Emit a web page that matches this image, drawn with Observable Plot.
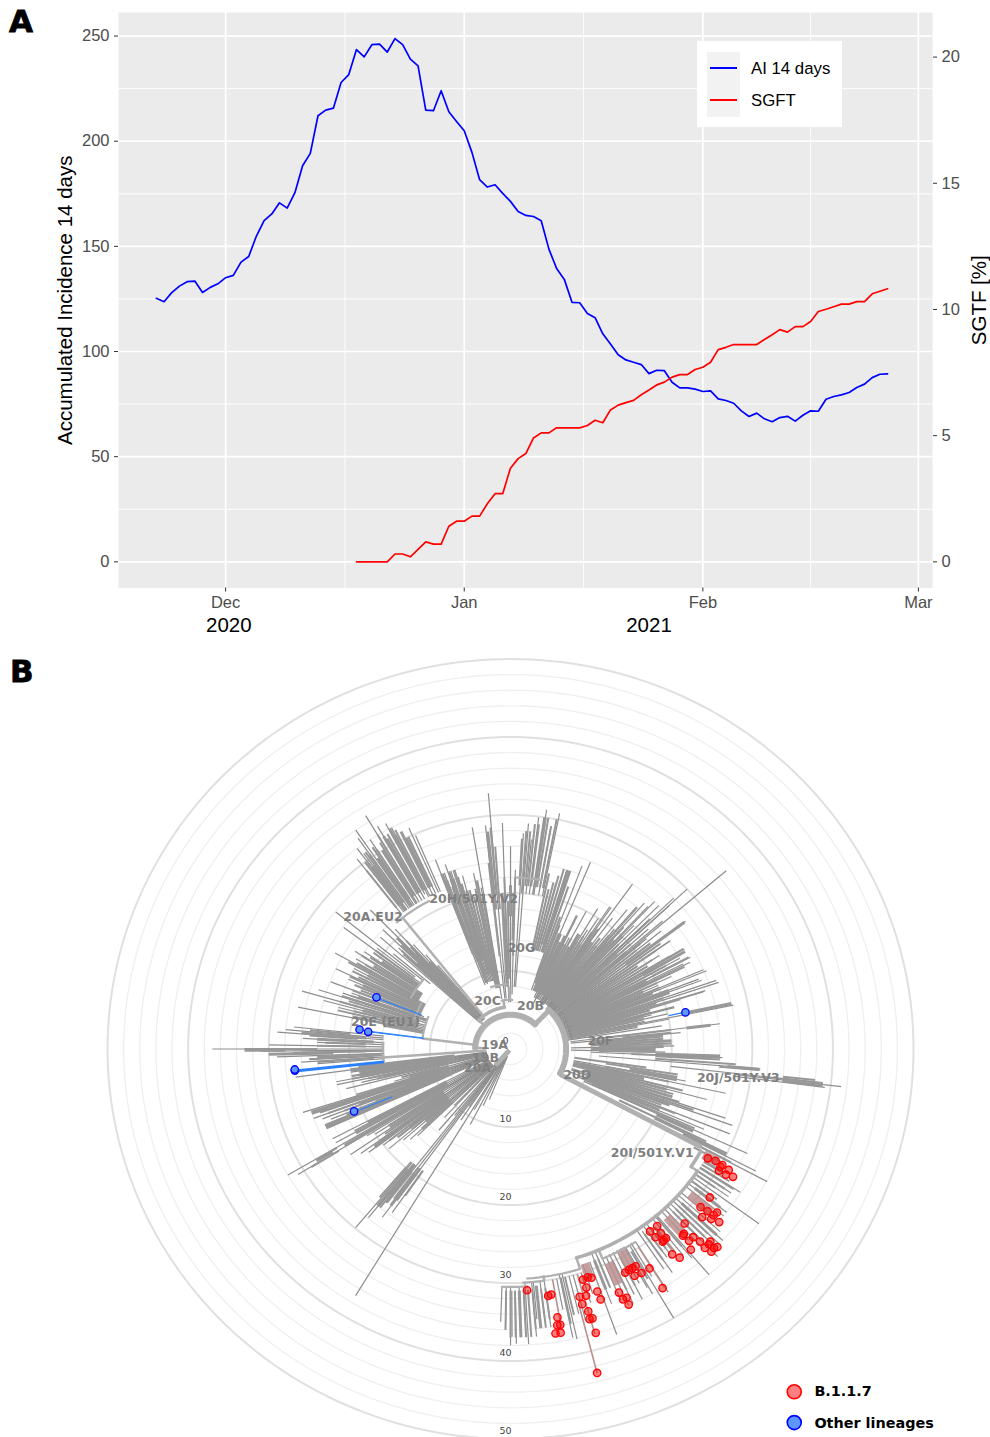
<!DOCTYPE html>
<html>
<head>
<meta charset="utf-8">
<script src="https://cdn.jsdelivr.net/npm/d3@7"></script>
<script src="https://cdn.jsdelivr.net/npm/@observablehq/plot@0.6"></script>
<style>
html,body{margin:0;padding:0;background:#fff}
#page{position:relative;width:990px;height:1437px;overflow:hidden}
#page svg{display:block}
.tag{position:absolute;font:700 31px "DejaVu Sans";color:#000;line-height:30px;-webkit-text-stroke:0.8px #000}
#lg{position:absolute;left:697px;top:41px;width:145px;height:86px;background:#fff;font:16.8px "Liberation Sans";color:#000}
#lg .key{position:absolute;left:10px;top:11px;width:33px;height:65px;background:#F2F2F2}
#lg .ln{position:absolute;left:13px;width:27px;height:2px}
#lg .t{position:absolute;left:54px;line-height:18px}
</style>
</head>
<body>
<div id="page">
  <div id="a"></div>
  <div id="b"></div>
  <div class="tag" style="left:9px;top:6px">A</div>
  <div class="tag" style="left:10px;top:656px">B</div>
  <div id="lg">
    <div class="key"></div>
    <div class="ln" style="top:26px;background:#00f"></div>
    <div class="ln" style="top:58px;background:#f00"></div>
    <div class="t" style="top:19px">AI 14 days</div>
    <div class="t" style="top:51px">SGFT</div>
  </div>
</div>
<script>
// ---------- Panel A data ----------
const aiStart = "2020-11-22";
const ai14days = [125.3,123.7,128,131.1,133.2,133.5,128.1,130.5,132.2,135.1,136.2,142.5,145.2,154.9,162.2,165.4,170.7,168.2,175.5,188.3,194.2,212.1,214.8,215.7,227.9,231.7,243.6,240.1,245.9,246.2,242.4,248.8,245.9,239,235.8,214.8,214.5,224,214,209.4,205,194.7,181.7,178.2,179.3,175.2,171.4,166.6,164.7,164.2,162.2,148.7,139.5,134.3,123.4,123.2,118.1,116.1,108.4,103.6,98.5,96,94.9,93.8,89.5,91.1,90.9,85.4,82.7,82.7,82.1,81,81.3,77.5,76.7,75.4,71.8,69.1,70.7,68,66.6,68.6,69.2,66.9,69.7,71.8,71.6,77.3,78.6,79.4,80.5,82.9,84.5,87.6,89.2,89.4];
const sgftStart = "2020-12-18";
const sgft = [0,0,0,0,0,0.31,0.31,0.2,0.49,0.79,0.7,0.7,1.41,1.61,1.61,1.81,1.81,2.3,2.7,2.7,3.71,4.09,4.29,4.91,5.11,5.11,5.31,5.31,5.31,5.31,5.4,5.61,5.51,6.02,6.21,6.31,6.4,6.62,6.81,7.01,7.12,7.32,7.42,7.42,7.62,7.71,7.91,8.41,8.5,8.61,8.61,8.61,8.61,8.81,9,9.2,9.1,9.32,9.32,9.52,9.92,10.01,10.11,10.21,10.21,10.31,10.31,10.62,10.72,10.82];
const monthTicks = ["2020-12-01","2021-01-01","2021-02-01","2021-03-01"];
const monthMinor = ["2020-12-16T12:00Z","2021-01-16T12:00Z","2021-02-15T00:00Z"];
const leftTicks = [0,50,100,150,200,250];
const leftMinor = [25,75,125,175,225];
const rightTicks = [0,5,10,15,20];
const sgftPerAi = 12;
const years = [["2020-12-01T10:00Z","2020"],["2021-01-25T00:00Z","2021"]];

// ---------- Panel B data: [angle clockwise from top (deg), depth from, depth to] ----------
const ringsMinor = [2,4,6,8,12,14,16,18,22,24,26,28,32,34,36,38,42,44,46,48];
const ringsMajor = [10,20,30,40,50];
const ringLabels = [0,10,20,30,40,50];
const trunkHeavy = [[44,4.4,6.9],[118,7,26.8],[-138,0.2,2.8]];
const arcsHeavy = [[4.4,-88,44],[6.9,43,117]];
const arcsMid = [[5.4,-47,-8],[28,124,163],[27,119,124]];
const arcsLight = [[6.3,-10,2],[29.5,163,176],[21.5,-41,-28],[29.2,148,157],[11,-83,-68],[15.8,-96,-87],[22,2,10],[30,172,177],[12.5,-72,-62],[14,-62,-50],[8.3,-17,-3],[30.5,176,182]];
const trunkLight = [[-47,4.4,5.4],[-8,5.4,6.3],[124,27,28],[163,28,29.5],[172,29.3,30],[-38.5,5.4,21.5],[-83,4.2,11],[-88,3,4.4],[-94,3,15.8],[157,28,29.2],[-1,6.3,8]];
const raysThin = [
 [49.5,7,35.2],[46.9,7,30],[53,7.5,27.2],[46.3,7.2,28],[43.4,7,26],[41.6,7,25],[35.6,7,26],[40.6,7,24],[34,6.8,22],[25.9,6.5,19],[35,7,18.8],[32.1,7,17.1],[55,7.5,24.2],[59.3,7.5,25.1],[62.2,7.5,25.2],[63.5,7.5,24.9],[67.6,7.5,26.3],[69.6,7.5,25.3],[71.7,7.5,27.2],[72.8,7.5,25.3],[78.5,7.5,28.2],[82.9,7.5,26.2],[75.4,7.5,21],[84.3,7.5,21.2],[88.9,7.5,20.3],[91.2,7.5,19.2],[92.4,10,26.3],[94.7,11,31.1],[96.7,28,41.3],[97.2,28,39.3],[96.4,20,34.1],[102,8,27.3],[104.9,8,25.2],[100.7,8,22.1],[108.4,8,28.1],[109.6,8,29.2],[111.8,8,29.3],[114.5,10,32.3],[113.2,9,26.1],[118.6,8,16],
 [24,7.2,15],[25.5,7.2,19],[27,7.2,16],[28,7.2,20],[29.5,7.2,17],[31,7.2,21],[32,7.2,18],[33,7.2,20],[34.5,7.2,22],[35.5,7.2,19],[37,7.2,21],[38,7.2,18],[39,7.2,23],[40,7.2,20],[41,7.2,24],[42,7.2,21],[43,7.2,25],[44,7.2,22],[45,7.2,26],[46,7.2,24],[47,7.2,27],[48,7.2,23],[49,7.2,25],[50,7.2,22],[51,7.2,24],[52,7.2,21],[53,7.2,26],[54,7.2,22],[55,7.2,24],[56,7.2,19],[57,7.2,22],[58,7.2,20],[59,7.2,25],[60,7.2,21],[61,7.2,24],[62,7.2,20],[63,7.2,24],[64,7.2,19],[65,7.2,22],[66,7.2,20],[67,7.2,26],[68,7.2,19],[69,7.2,25],[70,7.2,20],[71,7.2,27],[72,7.2,19],[73,7.2,25],[74,7.2,18],[75,7.2,21],[76,7.2,18],[77,7.2,20],[78,7.2,17],[79,7.2,20],[80,7.2,16],[81,7.2,19],
 [22.5,8,25.9],[20.7,8,25.1],[19,8,22],[17,13,24],[14.8,13,21.9],[16,13,23],[13,13,21],[11.4,20,30.8],[10,20,29],[8.3,20,31],[6.7,20,29.9],[4.4,8,29],[3.3,8,27.7],[5.5,20,27],[0,6,26],[-2,6,29],[-4.8,6.5,32.9],[-6.2,6.5,28.8],[-9.5,6.5,28.8],[1.5,7,23],
 [-31,22,34.9],[-34.4,22,34],[-36.5,22,32],[-38,22,30.9],[-28.2,22.5,32.8],[-24,22,31],[-23.3,22,29.8],[-37,22,30],[-36,22,31],[-35,22,33],[-33.5,22,31],[-33,22,32],[-32,22,30],[-30,22,33],[-29,22,31],[-27.5,22,32],[-27,22,30],[-26,22,31],[-25,22,30],
 [-44.3,5,24.9],[-47,5,19],[-48.4,5,21.6],[-46,5,22],[-45,5,20],[-43,5,21],[-42,5,18],[-41,5,16],[-40,5,14],
 [-21,8.8,26],[-18.9,8.8,25],[-20,9,24],[-19,9,23],[-18,9,24],[-17,9,23],[-16,9,22],[-15,9,23],[-14,9,21],[-13,8,19],[-11.5,8,23],[-10,8,21],
 [-78.5,11,26.9],[-74,11,26.9],[-72.3,11,25],[-68.9,11.5,23.9],[-64.6,12,24],[-60.5,13,25],[-53,14,25.9],[-51,14,27.9],[-58.9,13,22.4],[-76,11,22],[-77,11,20],[-75,11,24],[-71,11,22],[-70,11,21],[-67,12,21],[-66,12,22],[-63,12,21],[-62,12,22],[-59,13,20],[-57,13,23],[-55.5,14,22],[-54,14,21],[-52,15,21],[-50,13,19],
 [-90,15.8,37],[-90.5,15.8,31],[-92,15.8,29],[-93.7,15.8,26],[-85.7,15.8,29],[-84.9,15.8,28],[-84,15.8,27],[-87,15.8,25.8],[-88,15.8,24],[-89,15.8,30],[-91,15.8,27],[-93,15.8,25],[-94.5,15.8,24],
 [-97.7,3,26.9],[-98.5,3,20],[-99,3,19],[-100,3,20],[-101,3,22],[-102,3,22],[-103,3,19],[-104,3,21],
 [-107.5,3,27],[-110,3,26],[-114,3,24.9],[-106,3,15],[-108,3,24],[-109,3,25],[-111,3,25],[-112,3,24],[-113,3,25],
 [-117.5,3,24.9],[-119,3,24.8],[-120.3,3,32],[-121.4,3,30.9],[-124.3,3,24],[-125.8,3,22.9],[-127,3,22],[-130.3,3,19.8],[-131.3,3,17.7],[-123,3,20],[-122,3,21],[-128,3,20],[-129,3,18],[-126,3,19],[-132,3,14],[-133,3,17],[-134,3,16],
 [-139.5,2,13.7],[-137,2,12],[-136,2,10],[-141,2,11],[-148.7,1,37],[-152.7,1.5,10.9],[-150,1.5,9],[-155,1,8],[-158,1,7],[-146,1.5,11],[-145,1.5,9],[-142,1.5,19],[-143,1.5,19],[-144,1.5,20],
 [-140,19,29.9],[-140.8,19,27.9],[-143.6,19,26.8],[-145.3,19,22.9],[-145,19,25.6],[-142,19,25],[-141,19,26],[-139.5,19,22],[-143,19,23],[-144,19,22],
 [117.2,25,34.2],[118.1,26,36.1],[122.8,28,33.9],[126,28,38.1],[139.6,28,38],[149.6,29.2,40],[160.2,29,38.9],[147.9,29.2,36.8],[150.7,29.2,36],[145,28.5,35],[167.5,29.5,38.1],[168.2,29.5,37.8],[176.6,30,37.9],[178.9,31,37.8],[179.7,31,36.9],[174.6,30,34.8],
 [124,28,33],[125,28,33],[127,28,32],[128,28,34],[129,28,34],[131,28,33],[132,28,35],[133,28,36],[134,28,36],[135,28,36],[136,28,37],[137,28,35],[138,28,33],[140,28,35],[141,28,34],[143,28,33],[144,28,33],[146,28,34],[149,29,34],[151,29,35],[152,29,34],[153,29,36],[154,29,35],[155,29,36],[156,29,36],[157,29,35],[158,28,33],[159,28,35],[162,29,33],[163,30,34],[165,30,36],[166,30,35],[169,30,34],[172,30,36],[173,30,35],[175,30,37],[177,30.5,36],[178,30.5,35],[180,30.5,38],[181,30.5,36],[182,30.5,35]
];
const raysDense = [
 [25,8,16],[17.5,13,24],[8.3,21,30],[53,18,27],[60,19,25],[69,9,21],[73,8,22],[78,22,28],[83,22,25],[92,18,26],[94.8,27,31],[96.5,34,39],[100,15,21],[107,10,21],[113,10,20],[115,20,25],[117,24,30],[30,8,17],[36,8,17],[42,8,19],[47,8,18],[63,8,19],[66,9,18],[76,8,17],[79,8,16],
 [85,10,19],[87,10,20],[89,11,19],[91,11,18],[103,8,17],[105,8,20],[110,10,21],
 [-36,22,29],[-34,22,29.5],[-32,22,30],[-30,23,31.5],[-28,23,32],[-26,23,31],
 [-46,6,16],[-44,6,17],[-42.5,6,15],
 [-19,10,22],[-17,12,24],[-15,10,21],[-11,8,22],[-5.8,18,28],[-3,8,20],[0,17,21],
 [-70.5,11,20],[-66,12,20],[-62,12,20],[-58,13,20],[-55,14,19.5],[-75,12,19],[-79,11,16],
 [-85.5,18,26],[-87,17,24],[-92.5,16,24],[-91.3,22,30],[-90.3,28,33],
 [-97,7,19],[-99,7,18],[-100.5,7,19],[-102.5,7,16],
 [-108.5,8,26],[-110.5,8,20],[-113.5,8,25],[-112,8,18],[-106,8,13],
 [-118,9,20],[-120.8,25.7,28],[-121,9,24],[-124,10,18],[-126.5,10,21],[-128.5,10,16],[-131,10,14],[-133,10,15],
 [-142,20,25],[-143.5,20,25],[-141,19,24],
 [121,28,31],[128,29,33],[133,29,35],[142,29,33],[159,29,33],[174,30.5,36],[178,31,37]
];
const raysFill = [
 [-38,23,29],[-37,23,30],[-36.5,23,30],[-35.5,23,31],[-35,23,30.5],[-33.5,23,31],[-33,23,30.5],[-31.5,23,31],[-31,23,32],[-29.5,23,31],[-29,23,31.5],[-27.5,23,31],[-27,23,31.5],[-25.5,23,30],[-25,23,30],
 [-47.5,6,18],[-47,6,18.5],[-45.5,6,19],[-45,6,18],[-44.5,6,20],[-43.5,6,18],[-43,6,19],[-41.5,6,15],[-41,6,14],
 [-21,13,24],[-20,12,23],[-20.5,14,24],[-18,10,23],[-18.5,12,24],[-16,10,22],[-16.5,12,23],[-14,10,21],[-13,9,20],[-12,8,21],[-10,8,20],[-6.5,12,24],[-5,20,28.5],[-6,22,27],[-4.2,18,26],[-2,9,22],[-1,9,19],[1,14,20],[1.5,12,22],
 [3,21,27],[4,20,28],[5,21,28],[6,21,29],[7,21,29],[8,20,30],[9,21,30],[10,21,29],[11,21,30],
 [12,13,23],[13,13,21],[14,13,22],[15,13,23],[16,14,24],[17,14,24],[18,13,24],[19,10,22],[20,9,18],[21,8,17],[22,8,16],[23,8,16],[24,8,15],[26,8,15],[27,8,15],[28,8,16],
 [29,8,15],[31,8,16],[32,8,17],[33,8,16],[34,8,18],[35,8,16],[37,8,17],[38,8,18],[39,8,17],[40,8,19],[41,8,18],[43,8,19],[44,8,20],[45,8,19],[46,8,18],[48,8,20],[49,8,19],[50,8,21],[51,8,20],[52,8,22],[54,8,23],[55,8,22],[56,8,19],[57,8,21],[58,8,20],[59,8,23],[60,8,21],[61,8,22],[62,8,19],[64,8,19],[65,8,20],[67,8,20],[68,8,19],[70,8,21],[71,8,20],[72,8,19],[74,8,18],[75,8,18],[77,8,17],[62,20,25],[64,19,24],
 [83,10,20],[84,14,20],[86,10,19],[88,11,20],[90,10,18],[92.5,15,26],[93,18,26],[94,18,28],[95,26,31],[96,34,38],[97,34,39],[98,8,17],[99,12,21],[101,12,21],[102,9,20],[104,9,22],[106,10,21],[108,10,22],[109,10,24],[111,10,20],[112,10,22],[114,11,25],[116,15,27],[116.5,20,30],[118,24,31],[119,26,30],
 [-78,11,20],[-77,12,22],[-76,12,20],[-74,12,22],[-73,12,21],[-72,12,22],[-71,12,21],[-69,12,21],[-68,12,20],[-67,12,21],[-65,12,22],[-64,12,21],[-63,12,22],[-61,13,23],[-60,13,22],[-59,13,21],[-57,14,22],[-56,14,21],[-54,14,21],[-53,15,21],
 [-84.5,20,25],[-86,19,25],[-88,18,23],[-89,18,24],[-90,24,33],[-91,18,26],[-93,17,25],[-94,17,24],
 [-97.5,8,20],[-98,8,20],[-98.5,8,19],[-99.5,8,19],[-100,8,20],[-101,8,20],[-102,8,18],[-103,8,17],[-105,9,14],[-107,9,20],[-108,9,26],[-109,9,25],[-110,9,24],[-111,9,22],[-112.5,9,22],[-113,9,25],[-114,9,25],[-118.5,9,22],[-119.5,9,22],[-120.5,9,19],[-123,10,18],[-125,10,19],[-126,10,20],[-127,10,21],[-128,10,19],[-129,10,18],[-130,10,16],
 [-139.5,20,25],[-140.5,20,26],[-141.5,19,26],[-143,19,24],[-144,19,24],[-120.5,25,28],[-121.5,25,29],
 [122,28,32],[123,28,33],[124,28,32],[125,28,31],[127,28,32],[133,29,34],[134,29,34],[135,29,34],[136,29,34],[140,28,33],[143,29,32],[144,29,32],[145,29,33],[150,30,34],[153,30,34],[155,30,34],[158,29,33],[167,30,35],[168,30,36],[172,31,35],[173,31,36],[175,31,36],[176,31,37],[177,31,37],[179,31,37],[180,31,37],[181,31,36]
];
const brownWide = [[130,29,32.5],[138,29,32],[119.5,27.5,29.5],[161.5,29,31],[152,29,32],[156,30,33]];
const brownNarrow = [[165.5,34,42.9],[142,30,33],[148,30,36],[164,30,38],[170,30,36]];
const blueThin = [[-68.5,11.8,17.9],[-82.6,10.9,18.9],[-82.9,10.9,17.8],[-112.6,15.9,21],[77.7,20.1,22.2]];
const blueThick = [[-96,15.8,26.9]];
const blueDots = [[-68.3,17.9],[-82.4,18.9],[-82.9,17.8],[-95.9,26.9],[-95.6,26.9],[-112.4,21],[77.8,22.2]];
const redDots = [[119.8,28.2],[119.4,29.2],[119.5,30.2],[119.8,31.2],[121.1,30.2],[121.1,31.2],[120.7,32.1],[120.1,30.1],[127.6,31.2],[130.7,31.1],[130.4,32.1],[129.3,33.1],[130.2,33],[132.2,32.1],[131.2,33.1],[130.6,34.1],[136,31.1],[141.3,29.1],[143.5,29.1],[141.7,30.1],[143.3,30.1],[141.5,31],[142.2,31],[142.6,31.1],[137.8,32],[138.2,32.1],[136.8,33.1],[138,33.1],[136.4,34.1],[134.9,35],[135.5,35.1],[134.7,36.1],[135.3,35.9],[136.6,35.1],[136.2,36],[139,34.1],[142.7,33.1],[141.9,34],[148.5,33],[150.9,31.9],[151.7,31.9],[152.6,31.9],[153.6,32],[150.5,33],[152.1,32.9],[148.4,36],[156.7,34],[155.7,35],[156.5,35],[155.9,35.9],[161.1,31],[161.9,30.8],[163.1,30.9],[162.9,32],[163.5,33],[164.9,32.9],[160.9,32.9],[160.8,34],[164.8,33.9],[164,35],[164.2,36],[163.6,36],[163.8,37.9],[165.5,42.9],[176.2,31],[171.6,32],[170.9,31.9],[170.4,34.9],[170.7,35.9],[170.1,35.9],[171.3,36.9],[170.3,36.9]];
const cladeLabels = [["19A",-77.3,2.04],["19B",-109.5,3.3],["20A",-120.3,4.75],["20B",24,6.1],["20C",-24.7,6.8],["20D",111.7,8.9],["20E (EU1)",-77.3,15.9],["20F",84.9,11.2],["20G",6,13],["20H/501Y.V2",-13.4,19.8],["20I/501Y.V1",127.3,22.1],["20J/501Y.V3",97.4,28.5],["20A.EU2",-45.3,24]];
const legendItems = ["B.1.1.7","Other lineages"];

// ---------- Panel A ----------
const day = 86400000;
const seq = (start, vals) => vals.map((v, i) => ({date: new Date(+new Date(start + "T00:00Z") + i * day), v}));
const aiRows = seq(aiStart, ai14days);
const sgftRows = seq(sgftStart, sgft).map(d => ({date: d.date, v: d.v * sgftPerAi}));
const toDate = s => new Date(s.length === 10 ? s + "T00:00Z" : s);
const sans = "Liberation Sans";
const A = Plot.plot({
  width: 990, height: 645, marginLeft: 118, marginRight: 58, marginTop: 12, marginBottom: 57.5,
  style: {background: "transparent", fontFamily: sans},
  x: {type: "utc", domain: [new Date("2020-11-17T02:00Z"), new Date("2021-03-02T20:00Z")]},
  y: {domain: [-12.44, 261.2]},
  marks: [
    Plot.frame({fill: "#EBEBEB", stroke: null}),
    Plot.ruleY(leftMinor, {stroke: "#fff", strokeWidth: 0.9}),
    Plot.ruleX(monthMinor.map(toDate), {stroke: "#fff", strokeWidth: 0.9}),
    Plot.ruleY(leftTicks, {stroke: "#fff", strokeWidth: 1.7}),
    Plot.ruleX(monthTicks.map(toDate), {stroke: "#fff", strokeWidth: 1.7}),
    Plot.line(aiRows, {x: "date", y: "v", stroke: "#0000FF", strokeWidth: 1.7}),
    Plot.line(sgftRows, {x: "date", y: "v", stroke: "#FF0000", strokeWidth: 1.7}),
    Plot.axisX({ticks: monthTicks.map(toDate), tickFormat: d3.utcFormat("%b"), tickSize: 4, tickPadding: 4, stroke: "#333", fill: "#4D4D4D", fontSize: 16.5, label: null}),
    Plot.axisY({anchor: "left", ticks: leftTicks, tickSize: 4, tickPadding: 5, stroke: "#333", fill: "#4D4D4D", fontSize: 16.5, label: null}),
    Plot.axisY({anchor: "right", ticks: rightTicks.map(d => d * sgftPerAi), tickFormat: d => d / sgftPerAi, tickSize: 4, tickPadding: 5, stroke: "#333", fill: "#4D4D4D", fontSize: 16.5, label: null}),
    Plot.text(["Accumulated Incidence 14 days"], {frameAnchor: "left", textAnchor: "middle", lineAnchor: "middle", rotate: -90, dx: -53, fontSize: 20.5, fill: "#000"}),
    Plot.text(["SGTF [%]"], {frameAnchor: "right", textAnchor: "middle", lineAnchor: "middle", rotate: -90, dx: 47, fontSize: 20.5, fill: "#000"}),
    Plot.text(years, {x: d => toDate(d[0]), text: d => d[1], frameAnchor: "bottom", lineAnchor: "middle", dy: 37.5, fontSize: 20.5, fill: "#000"})
  ]
});
document.getElementById("a").append(A);

// ---------- Panel B ----------
const rad = Math.PI / 180;
const px = (t, r) => r * Math.sin(t * rad);
const py = (t, r) => r * Math.cos(t * rad);
const arcPath = (list) => list.flatMap(([r, t0, t1], id) => {
  const n = Math.max(2, Math.ceil(Math.abs(t1 - t0) / 1.5));
  return d3.range(n + 1).map(i => { const t = t0 + (t1 - t0) * i / n; return {id, x: px(t, r), y: py(t, r)}; });
});
const ringArcs = list => arcPath(list.map(r => [r, 0, 360]));
const rays = (list, opts) => Plot.link(list, {
  x1: d => px(d[0], d[1]), y1: d => py(d[0], d[1]),
  x2: d => px(d[0], d[2]), y2: d => py(d[0], d[2]), ...opts
});
const arcs = (list, opts) => Plot.line(arcPath(list), {x: "x", y: "y", z: "id", ...opts});
const dejavu = "DejaVu Sans";
const B = Plot.plot({
  width: 990, height: 792, margin: 0,
  style: {background: "transparent", fontFamily: dejavu},
  x: {axis: null, domain: [-63.28, 59.55]},
  y: {axis: null, domain: [-49.81, 51.73]},
  marks: [
    Plot.line(ringArcs(ringsMinor), {x: "x", y: "y", z: "id", stroke: "#EFEFEF", strokeWidth: 1.3}),
    Plot.line(ringArcs(ringsMajor), {x: "x", y: "y", z: "id", stroke: "#E0E0E0", strokeWidth: 2}),
    Plot.text(ringLabels, {x: 0, y: d => -d, dx: -5, dy: -8, text: d => String(d), fontSize: 9.5, fill: "#444"}),
    rays(raysThin, {stroke: "#8E8E8E", strokeWidth: 1.2}),
    rays(raysDense, {stroke: "#999", strokeWidth: 3}),
    rays(raysFill, {stroke: "#979797", strokeWidth: 2}),
    rays(brownWide, {stroke: "#BC8F8F", strokeWidth: 9, strokeOpacity: 0.85}),
    rays(brownNarrow, {stroke: "#BC8F8F", strokeWidth: 1.6}),
    arcs(arcsLight, {stroke: "#B0B0B0", strokeWidth: 2.2}),
    rays(trunkLight, {stroke: "#B0B0B0", strokeWidth: 2.5}),
    arcs(arcsMid, {stroke: "#B0B0B0", strokeWidth: 3.6}),
    arcs(arcsHeavy, {stroke: "#B0B0B0", strokeWidth: 6}),
    rays(trunkHeavy, {stroke: "#B0B0B0", strokeWidth: 5}),
    rays(blueThin, {stroke: "#2A7FFF", strokeWidth: 1.1}),
    rays(blueThick, {stroke: "#2A7FFF", strokeWidth: 3}),
    Plot.dot(redDots, {x: d => px(d[0], d[1]), y: d => py(d[0], d[1]), r: 3.7, fill: "#FF0000", fillOpacity: 0.5, stroke: "#FF0000", strokeWidth: 1.3}),
    Plot.dot(blueDots, {x: d => px(d[0], d[1]), y: d => py(d[0], d[1]), r: 3.7, fill: "#5B97FF", stroke: "#0000FF", strokeWidth: 1.3}),
    Plot.text(cladeLabels, {x: d => px(d[1], d[2]), y: d => py(d[1], d[2]), text: d => d[0], fontSize: 12.5, fontWeight: 700, fill: "#7F7F7F"}),
    Plot.dot(legendItems, {x: 35.2, y: (d, i) => i ? -47.9 : -43.95, r: 7, fill: (d, i) => i ? "#5B97FF" : "#FF8080", stroke: (d, i) => i ? "#0000FF" : "#FF0000", strokeWidth: 1.6}),
    Plot.text(legendItems, {x: 37.7, y: (d, i) => i ? -47.98 : -43.9, text: d => d, textAnchor: "start", fontSize: 14.4, fontWeight: 700, fill: "#000"})
  ]
});
document.getElementById("b").append(B);
</script>
</body>
</html>
